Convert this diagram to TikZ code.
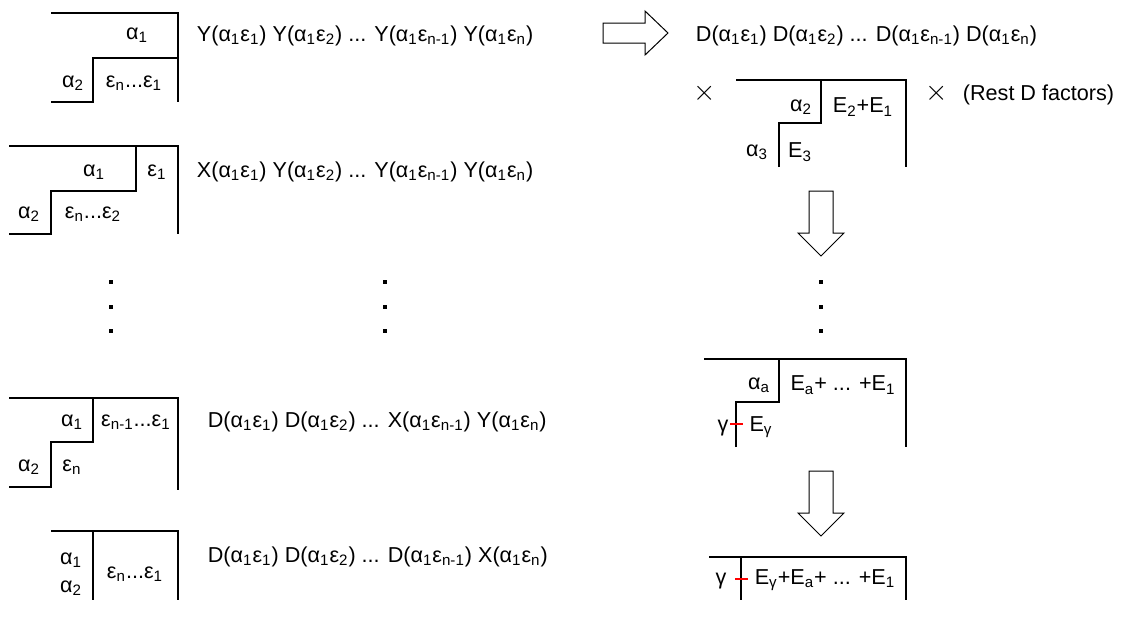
\documentclass[tikz,border=0pt]{standalone}
\usepackage{fontspec}
\setmainfont{Liberation Sans}
\newcommand{\asub}[1]{α\textsubscript{#1}}
\newcommand{\esub}[1]{ε\textsubscript{#1}}
\newcommand{\fac}[2]{#1(\asub{1}\esub{#2})}
\begin{document}
\begin{tikzpicture}[x=0.5pt,y=-0.5pt,line width=0.9pt]
\tikzstyle{every node}+=[inner sep=0pt,font=\fontsize{10.8}{13}\selectfont]
\tikzstyle{rowtext}=[anchor=west]
\tikzstyle{times}=[font=\fontsize{14}{16}\selectfont]
\tikzstyle{hollow}=[draw,line width=0.5pt,fill=white,line join=miter]
\tikzstyle{tick}=[red,line width=0.9pt]
\useasboundingbox (0,0) rectangle (1129,617);
% left column, first tableau
\draw (51,13) -- (178,13) -- (178,102);
\draw (51,102) -- (93,102) -- (93,58) -- (178,58);
\node (ta1) at (137,35) {\asub{1}};
\node (ta2) at (73,83) {\asub{2}};
\node (tae) at (134,83) {\esub{n}...\esub{1}};
\node [rowtext] (ya) at (196,36) {\fac{Y}{1} \fac{Y}{2} ... \fac{Y}{n-1} \fac{Y}{n}};
% second tableau
\draw (9,146) -- (178,146) -- (178,234);
\draw (9,234) -- (51,234) -- (51,191) -- (136,191) -- (136,146);
\node (tb1) at (94,172) {\asub{1}};
\node (tbe) at (157,172) {\esub{1}};
\node (tb2) at (29,214) {\asub{2}};
\node (tbn) at (93,214) {\esub{n}...\esub{2}};
\node [rowtext] (xa) at (196,172) {\fac{X}{1} \fac{Y}{2} ... \fac{Y}{n-1} \fac{Y}{n}};
% dots
\foreach \x in {111,385,821}
  \foreach \y in {282,307,331}
    \fill (\x,\y) +(-2,-2) rectangle +(2,2);
% third tableau
\draw (9,398) -- (178,398) -- (178,490);
\draw (9,487) -- (51,487) -- (51,442) -- (93,442) -- (93,398);
\node (tc1) at (72,422) {\asub{1}};
\node (tce) at (136,422) {\esub{n-1}...\esub{1}};
\node (tc2) at (29,467) {\asub{2}};
\node (tcn) at (72,467) {\esub{n}};
\node [rowtext] (da) at (207,422) {\fac{D}{1} \fac{D}{2} ... \fac{X}{n-1} \fac{Y}{n}};
% fourth tableau
\draw (51,531) -- (178,531) -- (178,600);
\draw (93,531) -- (93,600);
\node (td1) at (71,560) {\asub{1}};
\node (td2) at (71,588) {\asub{2}};
\node (tde) at (135,574) {\esub{n}...\esub{1}};
\node [rowtext] (db) at (207,557) {\fac{D}{1} \fac{D}{2} ... \fac{D}{n-1} \fac{X}{n}};
% arrows
\draw [hollow] (603,23) -- (645,23) -- (645,11) -- (668,33) -- (645,55) -- (645,43) -- (603,43) -- cycle;
\foreach \s in {0,280}
  \draw [hollow] (809,191+\s) -- (833,191+\s) -- (833,233+\s) -- (844,233+\s) -- (821,256+\s) -- (798,233+\s) -- (809,233+\s) -- cycle;
% right column
\node [rowtext] (dr) at (695,36) {\fac{D}{1} \fac{D}{2} ... \fac{D}{n-1} \fac{D}{n}};
\node [times] (x1) at (705,93) {$\times$};
\node [times] (x2) at (937,93) {$\times$};
\node [rowtext] (rest) at (962,95) {(Rest D factors)};
\draw (736,80) -- (906,80) -- (906,167);
\draw (779,167) -- (779,123) -- (821,123) -- (821,80);
\node (ra2) at (801,107) {\asub{2}};
\node (re21) at (863,107) {E\textsubscript{2}+E\textsubscript{1}};
\node (ra3) at (757,152) {\asub{3}};
\node (re3) at (800,152) {E\textsubscript{3}};
% tableau with gamma
\draw (704,359) -- (906,359) -- (906,447);
\draw (736,447) -- (736,402) -- (779,402) -- (779,359);
\node (raa) at (759,385) {\asub{a}};
\node (rea) at (843,385) {E\textsubscript{a}+ ... +E\textsubscript{1}};
\node (rg) at (723,428) {γ};
\node (reg) at (761,427) {E\textsubscript{γ}};
\draw [tick] (730,424) -- (743,424);
% last tableau
\draw (709,557) -- (906,557) -- (906,600);
\draw (741,557) -- (741,600);
\node (rg2) at (721,581) {γ};
\node (rsum) at (825,580) {E\textsubscript{γ}+E\textsubscript{a}+ ... +E\textsubscript{1}};
\draw [tick] (735,579) -- (748,579);
\end{tikzpicture}
\end{document}
